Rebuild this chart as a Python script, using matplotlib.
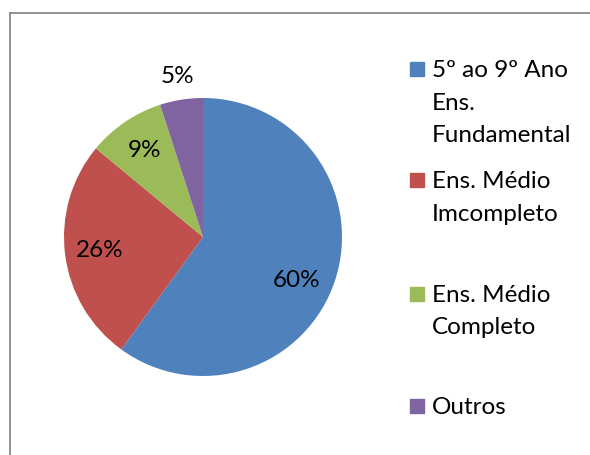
import matplotlib
matplotlib.use("Agg")
import matplotlib.pyplot as plt
from matplotlib.patches import Rectangle
from matplotlib.lines import Line2D
import numpy as np

plt.rcParams['font.family'] = ['Lato', 'DejaVu Sans']

# data
categorias = ["5º ao 9º Ano\nEns.\nFundamental", "Ens. Médio\nImcompleto",
              "Ens. Médio\nCompleto", "Outros"]
valores = [60, 26, 9, 5]
cores = ["#4F81BD", "#C0504D", "#9BBB59", "#8064A2"]

W, H = 590, 455
FS = 17.5
fig = plt.figure(figsize=(W / 100, H / 100), dpi=100)

# borda da área do gráfico (só topo e esquerda visíveis)
fig.add_artist(Line2D([10 / W, 1], [1 - 13 / H, 1 - 13 / H], color="#8a8a8a", lw=1.3))
fig.add_artist(Line2D([10 / W, 10 / W], [0, 1 - 13 / H], color="#8a8a8a", lw=1.3))

cx, cy, r = 203, 237, 139
ax = fig.add_axes([(cx - r) / W, (H - cy - r) / H, 2 * r / W, 2 * r / H])
wedges, textos, pcts = ax.pie(valores, colors=cores, startangle=90, counterclock=False,
                              autopct="%1.0f%%", pctdistance=0.75,
                              wedgeprops=dict(linewidth=0),
                              textprops=dict(fontsize=FS, color="black"))
ax.set_xlim(-1, 1)
ax.set_ylim(-1, 1)
ax.set_aspect("equal")
ax.axis("off")

# ajustes de posição dos rótulos (como no Excel)
pcts[0].set_position((0.67, -0.31))
th = np.deg2rad((wedges[3].theta1 + wedges[3].theta2) / 2)
pcts[3].set_position((1.17 * np.cos(th), 1.17 * np.sin(th)))

# legenda manual
leg_y = [77, 188, 302, 414]
passo = 32.5
for cat, cor, yb in zip(categorias, cores, leg_y):
    fig.add_artist(Rectangle((410 / W, 1 - (yb - 1) / H), 14 / W, 14 / H, color=cor,
                             transform=fig.transFigure))
    for i, linha in enumerate(cat.split("\n")):
        fig.text(432 / W, 1 - (yb + i * passo) / H, linha, fontsize=FS,
                 va="baseline", ha="left")

fig.savefig("out.png", dpi=100)
